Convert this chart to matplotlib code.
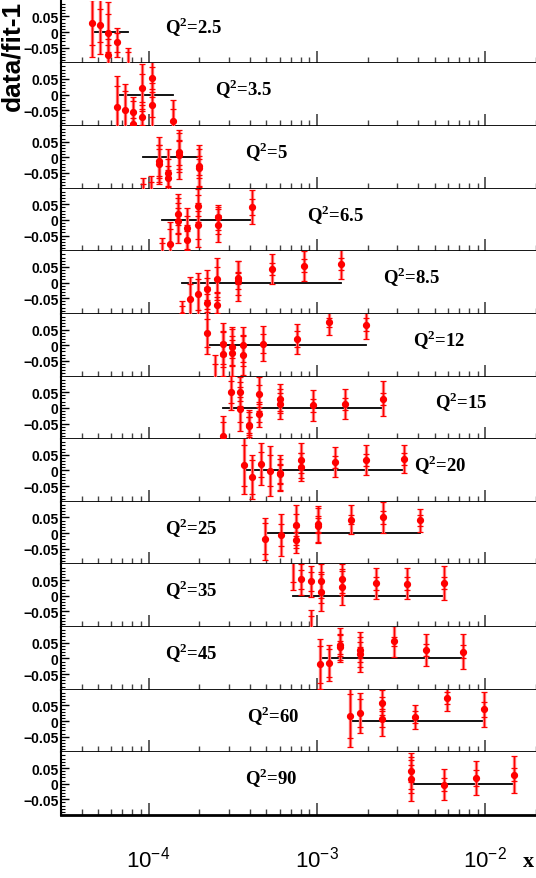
import matplotlib.pyplot as plt
from matplotlib.ticker import LogLocator, NullFormatter, FixedLocator

# Q2 bins, one panel each
q2_bins = ['2.5', '3.5', '5', '6.5', '8.5', '12', '15', '20', '25', '35', '45', '60', '90']

# x, data/fit-1, stat error, total error
x_25 = [4.64e-5, 5.14e-5, 5.75e-5, 5.75e-5, 6.53e-5, 7.56e-5]
r_25 = [0.029, 0.021, -0.003, -0.073, -0.033, -0.12]
st_25 = [0.072, 0.053, 0.06, 0.03, 0.03, 0.055]
tot_25 = [0.11, 0.09, 0.1, 0.05, 0.047, 0.07]

x_35 = [6.48e-5, 7.23e-5, 8.06e-5, 8.06e-5, 9.11e-5, 9.11e-5, 1.053e-4, 1.053e-4, 1.397e-4]
r_35 = [-0.04, -0.048, -0.056, -0.094, 0.0215, -0.072, 0.052, -0.032, -0.083]
st_35 = [0.067, 0.06, 0.035, 0.02, 0.045, 0.025, 0.035, 0.04, 0.038]
tot_35 = [0.10, 0.081, 0.05, 0.04, 0.075, 0.04, 0.06, 0.07, 0.065]

x_5 = [9.28e-5, 1.030e-4, 1.154e-4, 1.154e-4, 1.305e-4, 1.305e-4, 1.517e-4, 1.517e-4, 1.993e-4, 1.993e-4]
r_5 = [-0.12, -0.115, -0.011, -0.02, -0.049, -0.067, 0.016, 0.008, -0.027, -0.035]
st_5 = [0.035, 0.035, 0.05, 0.045, 0.045, 0.025, 0.04, 0.045, 0.03, 0.03]
tot_5 = [0.055, 0.055, 0.075, 0.06, 0.074, 0.04, 0.063, 0.078, 0.065, 0.06]

x_65 = [1.198e-4, 1.341e-4, 1.502e-4, 1.502e-4, 1.699e-4, 1.699e-4, 1.966e-4, 1.966e-4, 2.594e-4, 2.594e-4, 4.13e-4]
r_65 = [-0.115, -0.078, 0.020, -0.002, -0.027, -0.065, 0.046, -0.015, 0.009, -0.015, 0.042]
st_65 = [0.04, 0.05, 0.035, 0.04, 0.04, 0.03, 0.035, 0.045, 0.025, 0.03, 0.025]
tot_65 = [0.056, 0.07, 0.064, 0.072, 0.066, 0.05, 0.054, 0.07, 0.04, 0.055, 0.055]

x_85 = [1.573e-4, 1.756e-4, 1.966e-4, 2.233e-4, 2.233e-4, 2.559e-4, 2.559e-4, 3.41e-4, 3.41e-4, 5.42e-4, 8.36e-4, 1.399e-3]
r_85 = [-0.105, -0.054, -0.038, -0.0215, -0.065, 0.011, -0.072, 0.015, 0.005, 0.043, 0.054, 0.059]
st_85 = [0.03, 0.05, 0.05, 0.035, 0.03, 0.04, 0.025, 0.02, 0.025, 0.018, 0.02, 0.02]
tot_85 = [0.045, 0.073, 0.068, 0.062, 0.05, 0.066, 0.04, 0.055, 0.065, 0.048, 0.048, 0.048]

x_12 = [2.233e-4, 2.48e-4, 2.77e-4, 2.77e-4, 3.14e-4, 3.14e-4, 3.64e-4, 3.64e-4, 4.80e-4, 7.63e-4, 1.177e-3, 1.969e-3]
r_12 = [0.038, -0.12, 0.005, -0.029, -0.005, -0.024, 0.001, -0.031, 0.005, 0.019, 0.073, 0.066]
st_12 = [0.045, 0.06, 0.04, 0.04, 0.035, 0.04, 0.03, 0.035, 0.03, 0.025, 0.015, 0.02]
tot_12 = [0.067, 0.09, 0.065, 0.07, 0.062, 0.075, 0.056, 0.065, 0.057, 0.048, 0.04, 0.045]

x_15 = [2.78e-4, 3.10e-4, 3.47e-4, 3.47e-4, 3.95e-4, 3.95e-4, 4.52e-4, 4.52e-4, 6.00e-4, 6.00e-4, 9.50e-4, 1.464e-3, 2.46e-3]
r_15 = [-0.091, 0.05, 0.052, -0.005, -0.054, -0.058, 0.043, -0.021, 0.029, 0.011, 0.008, 0.013, 0.029]
st_15 = [0.045, 0.035, 0.03, 0.04, 0.025, 0.03, 0.03, 0.025, 0.02, 0.02, 0.02, 0.02, 0.02]
tot_15 = [0.066, 0.058, 0.045, 0.07, 0.04, 0.05, 0.054, 0.04, 0.046, 0.048, 0.05, 0.048, 0.056]

x_20 = [3.69e-4, 4.13e-4, 4.63e-4, 5.24e-4, 6.03e-4, 6.03e-4, 7.99e-4, 7.99e-4, 1.272e-3, 1.969e-3, 3.28e-3]
r_20 = [0.016, -0.02, 0.020, -0.001, -0.009, -0.012, 0.032, 0.011, 0.027, 0.033, 0.037]
st_20 = [0.065, 0.055, 0.04, 0.05, 0.03, 0.03, 0.025, 0.02, 0.02, 0.02, 0.018]
tot_20 = [0.09, 0.07, 0.067, 0.08, 0.057, 0.05, 0.056, 0.046, 0.048, 0.048, 0.044]

x_25b = [4.91e-4, 6.13e-4, 7.53e-4, 7.53e-4, 1.008e-3, 1.008e-3, 1.589e-3, 2.46e-3, 4.08e-3]
r_25b = [-0.018, -0.005, 0.027, -0.022, 0.029, 0.024, 0.043, 0.05, 0.041]
st_25b = [0.05, 0.035, 0.035, 0.025, 0.025, 0.025, 0.015, 0.02, 0.018]
tot_25b = [0.067, 0.067, 0.064, 0.04, 0.057, 0.056, 0.046, 0.048, 0.036]

x_35b = [7.23e-4, 8.08e-4, 9.17e-4, 9.17e-4, 1.055e-3, 1.055e-3, 1.409e-3, 1.409e-3, 2.23e-3, 3.45e-3, 5.72e-3]
r_35b = [0.115, 0.052, 0.046, -0.115, 0.046, 0.011, 0.055, 0.028, 0.04, 0.039, 0.041]
st_35b = [0.07, 0.03, 0.03, 0.05, 0.03, 0.035, 0.025, 0.025, 0.02, 0.02, 0.02]
tot_35b = [0.096, 0.05, 0.05, 0.07, 0.054, 0.06, 0.045, 0.057, 0.05, 0.05, 0.055]

x_45 = [1.036e-3, 1.177e-3, 1.362e-3, 1.362e-3, 1.804e-3, 1.804e-3, 2.85e-3, 4.42e-3, 7.37e-3]
r_45 = [-0.019, -0.014, 0.043, 0.035, 0.027, 0.013, 0.054, 0.027, 0.022]
st_45 = [0.06, 0.045, 0.035, 0.02, 0.025, 0.025, 0.015, 0.02, 0.022]
tot_45 = [0.08, 0.058, 0.054, 0.04, 0.056, 0.056, 0.048, 0.052, 0.057]

x_60 = [1.567e-3, 1.814e-3, 2.42e-3, 2.42e-3, 3.81e-3, 5.90e-3, 9.86e-3]
r_60 = [0.016, 0.025, 0.058, 0.0075, 0.013, 0.073, 0.037]
st_60 = [0.07, 0.045, 0.02, 0.025, 0.02, 0.02, 0.025]
tot_60 = [0.1, 0.063, 0.04, 0.054, 0.037, 0.04, 0.057]

x_90 = [3.61e-3, 3.61e-3, 5.71e-3, 8.84e-3, 1.478e-2]
r_90 = [0.04, 0.016, -0.003, 0.019, 0.029]
st_90 = [0.035, 0.045, 0.02, 0.025, 0.02]
tot_90 = [0.057, 0.07, 0.05, 0.055, 0.06]

panels = [
    (x_25, r_25, st_25, tot_25), (x_35, r_35, st_35, tot_35), (x_5, r_5, st_5, tot_5),
    (x_65, r_65, st_65, tot_65), (x_85, r_85, st_85, tot_85), (x_12, r_12, st_12, tot_12),
    (x_15, r_15, st_15, tot_15), (x_20, r_20, st_20, tot_20), (x_25b, r_25b, st_25b, tot_25b),
    (x_35b, r_35b, st_35b, tot_35b), (x_45, r_45, st_45, tot_45), (x_60, r_60, st_60, tot_60),
    (x_90, r_90, st_90, tot_90),
]

# label positions (axes fraction)
label_x = [0.22, 0.325, 0.388, 0.518, 0.678, 0.741, 0.788, 0.743, 0.22, 0.22, 0.22, 0.392, 0.388]

W, H = 536, 879
fig = plt.figure(figsize=(W / 100, H / 100), dpi=100)
left, right = 60.5 / W, 1.0
top_px, bot_px = 1.7, 816.0
ph = (bot_px - top_px) / 13

sans = ['Liberation Sans', 'DejaVu Sans']
serif = ['Liberation Serif', 'DejaVu Serif']

for i, (xs, rs, sts, tots) in enumerate(panels):
    y0 = 1 - (top_px + (i + 1) * ph) / H
    ax = fig.add_axes([left, y0, right - left, ph / H])
    ax.set_xscale('log')
    ax.set_xlim(3e-5, 2e-2)
    ax.set_ylim(-0.1, 0.1)

    ax.plot([min(xs), max(xs)], [0, 0], color='black', lw=1.3, zorder=2)
    ax.errorbar(xs, rs, yerr=tots, fmt='none', ecolor=(1, 0.5, 0.5), elinewidth=2.4, capsize=0, zorder=3)
    ax.errorbar(xs, rs, yerr=tots, fmt='none', ecolor='red', elinewidth=0.9, capsize=2.5, capthick=0.9, zorder=4)
    ax.errorbar(xs, rs, yerr=sts, fmt='o', color='red', ms=4.2, ecolor='red', elinewidth=0.9,
                capsize=2.5, capthick=0.9, zorder=5)

    ax.text(label_x[i], 0.6, r'Q$^{\mathregular{2}}$=' + q2_bins[i], transform=ax.transAxes,
            ha='left', va='center', fontsize=13.5, fontweight='bold', family=serif)

    for s in ['top', 'right']:
        ax.spines[s].set_visible(False)
    ax.spines['bottom'].set_linewidth(2.0)
    ax.spines['left'].set_linewidth(1.5)

    ax.xaxis.set_major_locator(FixedLocator([1e-4, 1e-3, 1e-2]))
    ax.xaxis.set_minor_locator(LogLocator(base=10, subs=range(2, 10), numticks=20))
    ax.xaxis.set_minor_formatter(NullFormatter())
    ax.tick_params(axis='x', which='major', direction='in', length=9, width=1.2, color='#444444', top=False)
    ax.tick_params(axis='x', which='minor', direction='in', length=4.5, width=1.0, color='#444444', top=False)

    ax.set_yticks([-0.05, 0, 0.05])
    ax.set_yticks([-0.09, -0.08, -0.07, -0.06, -0.04, -0.03, -0.02, -0.01, 0.01, 0.02, 0.03,
                   0.04, 0.06, 0.07, 0.08, 0.09], minor=True)
    ax.set_yticklabels(['\u22120.05', '0', '0.05'], fontsize=10, fontweight='bold', family=sans)
    ax.tick_params(axis='y', which='major', direction='in', length=6, width=1.0, pad=1.5, right=False)
    ax.tick_params(axis='y', which='minor', direction='in', length=3, width=0.8, right=False)

    if i == len(panels) - 1:
        ax.set_xticklabels([r'$\mathregular{10^{-4}}$', r'$\mathregular{10^{-3}}$', r'$\mathregular{10^{-2}}$'],
                           fontsize=16, family=sans)
        ax.tick_params(axis='x', which='major', pad=22)
    else:
        ax.set_xticklabels([])

fig.text(12 / W, 1 - 1.0 / H, 'data/fit-1', rotation=90, ha='center', va='top',
         fontsize=19, fontweight='bold', family=sans)
fig.text(523 / W, 1 - 862 / H, 'x', ha='left', va='center', fontsize=16, fontweight='bold', family=serif)

fig.savefig('out.png', dpi=100)
